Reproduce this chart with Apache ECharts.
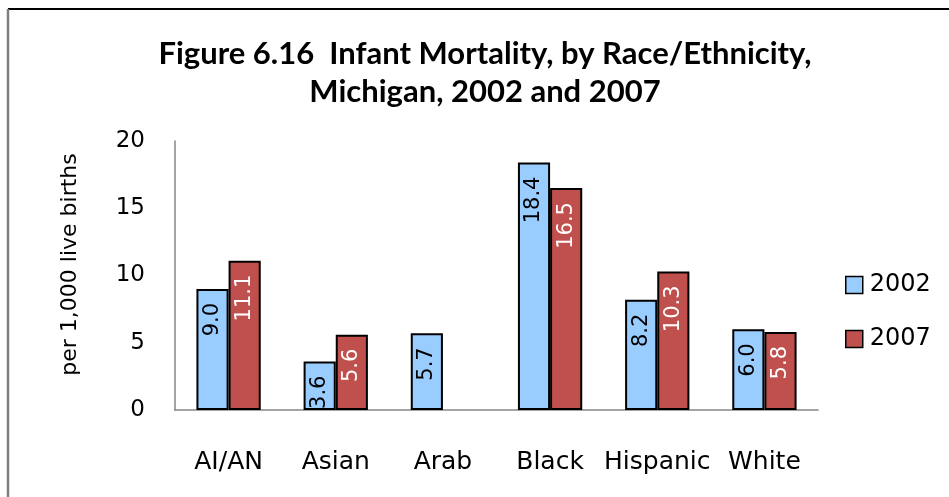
<!DOCTYPE html>
<html>
<head>
<meta charset="utf-8">
<script src="https://cdn.jsdelivr.net/npm/echarts@6/dist/echarts.min.js"></script>
<style>
html,body{margin:0;padding:0;background:#fff;}
#chart{width:949px;height:497px;}
</style>
</head>
<body>
<div id="chart"></div>
<script>
const categories = ['AI/AN', 'Asian', 'Arab', 'Black', 'Hispanic', 'White'];
const values2002 = [9.0, 3.6, 5.7, 18.4, 8.2, 6.0];
const values2007 = [11.1, 5.6, null, 16.5, 10.3, 5.8];
const seriesNames = ['2002', '2007'];
const yTicks = [0, 5, 10, 15, 20];

const chart = echarts.init(document.getElementById('chart'));
const labelBase = {
  show: true,
  position: 'insideTop',
  rotate: 90,
  align: 'right',
  verticalAlign: 'middle',
  distance: 14,
  fontFamily: 'DejaVu Sans',
  fontSize: 21,
  formatter: p => p.value == null ? '' : Number(p.value).toFixed(1)
};
chart.setOption({
  animation: false,
  backgroundColor: '#fff',
  title: {
    text: 'Figure 6.16  Infant Mortality, by Race/Ethnicity,\nMichigan, 2002 and 2007',
    left: 485,
    textAlign: 'center',
    top: 35,
    padding: 0,
    textStyle: {
      fontFamily: 'Lato',
      fontWeight: 'bold',
      fontSize: 31,
      lineHeight: 38,
      color: '#000'
    }
  },
  graphic: [
    { type: 'line', shape: { x1: 8, y1: 9, x2: 949, y2: 9 }, style: { stroke: '#000', lineWidth: 2 } },
    { type: 'line', shape: { x1: 8, y1: 9, x2: 8, y2: 497 }, style: { stroke: '#808080', lineWidth: 2.5 } }
  ],
  legend: {
    orient: 'vertical',
    left: 845,
    top: 273,
    padding: 0,
    icon: 'rect',
    itemWidth: 17,
    itemHeight: 17,
    itemGap: 30,
    textStyle: { fontFamily: 'DejaVu Sans', fontSize: 24, color: '#000', padding: [0, 0, 0, 2] },
    data: seriesNames.map(n => ({ name: n, itemStyle: { borderColor: '#000', borderWidth: 1.5 } }))
  },
  grid: { left: 175, right: 131, top: 141, bottom: 87 },
  xAxis: {
    type: 'category',
    data: categories,
    axisLine: { lineStyle: { color: '#868686', width: 1.5 } },
    axisTick: { show: false },
    axisLabel: { interval: 0, fontFamily: 'DejaVu Sans', fontSize: 25, color: '#000', margin: 40 }
  },
  yAxis: {
    type: 'value',
    min: yTicks[0],
    max: yTicks[yTicks.length - 1],
    interval: 5,
    name: 'per 1,000 live births',
    nameLocation: 'middle',
    nameGap: 94,
    nameTextStyle: { fontFamily: 'DejaVu Sans', fontSize: 22, color: '#000', padding: [0, 0, 0, 22] },
    axisLine: { show: true, lineStyle: { color: '#868686', width: 1.5 } },
    axisTick: { show: false },
    splitLine: { show: false },
    axisLabel: { fontFamily: 'DejaVu Sans', fontSize: 23, color: '#000', margin: 30 }
  },
  series: [
    {
      name: seriesNames[0],
      type: 'bar',
      data: values2002,
      barGap: '0%',
      barCategoryGap: '40%',
      itemStyle: { color: '#99CCFF', borderColor: '#000', borderWidth: 2 },
      label: Object.assign({}, labelBase, { color: '#000' })
    },
    {
      name: seriesNames[1],
      type: 'bar',
      data: values2007,
      itemStyle: { color: '#C0504D', borderColor: '#000', borderWidth: 2 },
      label: Object.assign({}, labelBase, { color: '#fff' })
    }
  ]
});
</script>
</body>
</html>
